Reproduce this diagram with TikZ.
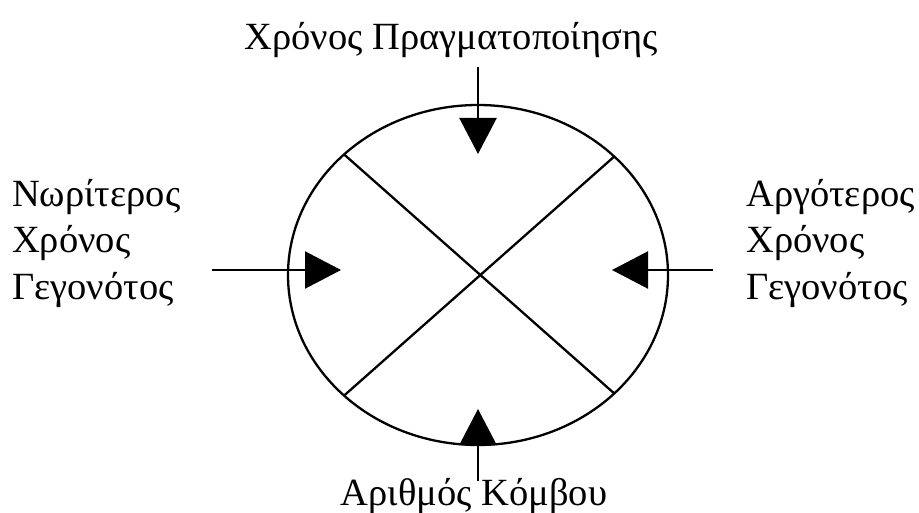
\documentclass[tikz,border=0pt]{standalone}
\usepackage{fontspec}
\setmainfont{Liberation Serif}
\usetikzlibrary{arrows.meta,shapes.geometric}
\begin{document}
\begin{tikzpicture}[x=1pt,y=-1pt,
  lbl/.style={inner sep=0pt,font=\fontsize{38.5}{46}\selectfont},
  ln/.style={line width=2.3pt},
  arr/.style={line width=2.3pt,-{Triangle[length=36pt,width=37pt]}}]
\useasboundingbox (0,0) rectangle (919,513);
\node[draw,ellipse,line width=2.3pt,minimum width=380pt,minimum height=340pt,inner sep=0pt,outer sep=0pt] (disc) at (478,275) {};
\draw[ln] (disc.138.2) -- (disc.-41.8);
\draw[ln] (disc.41.8) -- (disc.-138.2);
% texts
\node[lbl,anchor=base] (top) at (451,50) {Χρόνος Πραγματοποίησης};
\node[lbl,anchor=base] (bot) at (474,505) {Αριθμός Κόμβου};
\node[lbl,anchor=base west] (l1) at (12,207) {Νωρίτερος};
\node[lbl,anchor=base west] (l2) at (12,253) {Χρόνος};
\node[lbl,anchor=base west] (l3) at (12,300) {Γεγονότος};
\node[lbl,anchor=base west] (r1) at (746,207) {Αργότερος};
\node[lbl,anchor=base west] (r2) at (746,253) {Χρόνος};
\node[lbl,anchor=base west] (r3) at (746,300) {Γεγονότος};
% arrows
\coordinate (ts) at (478,67);
\coordinate (tt) at (478,154);
\coordinate (bs) at (478,481);
\coordinate (bt) at (478,409);
\coordinate (ls) at (212,270);
\coordinate (lt) at (341,270);
\coordinate (rs) at (713,270);
\coordinate (rt) at (612,270);
\draw[arr] (ts) -- (tt);
\draw[arr] (bs) -- (bt);
\draw[arr] (ls) -- (lt);
\draw[arr] (rs) -- (rt);
\end{tikzpicture}
\end{document}
